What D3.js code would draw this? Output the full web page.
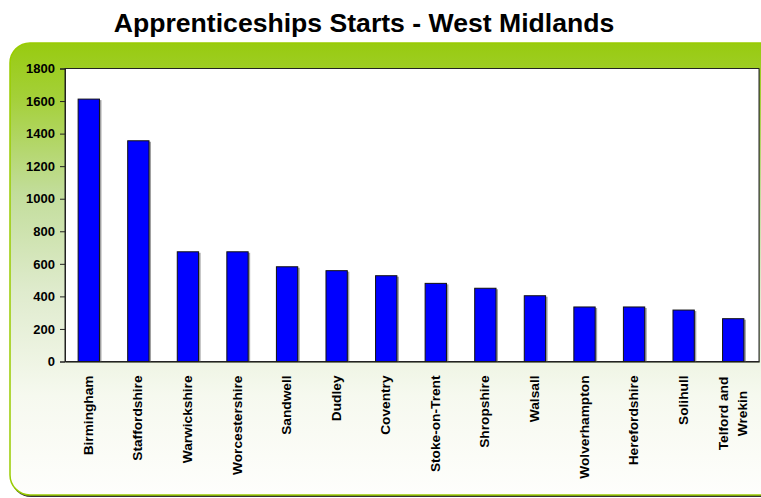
<!DOCTYPE html>
<html>
<head>
<meta charset="utf-8">
<script src="https://cdn.jsdelivr.net/npm/d3@7"></script>
<style>
  html, body { margin: 0; padding: 0; background: #ffffff; }
  svg { display: block; }
  text { font-family: "Liberation Sans", Arial, sans-serif; font-weight: bold; fill: #000; }
</style>
</head>
<body>
<svg id="chart" width="761" height="498"></svg>
<script>
const categories = ["Birmingham", "Staffordshire", "Warwickshire", "Worcestershire", "Sandwell", "Dudley", "Coventry", "Stoke-on-Trent", "Shropshire", "Walsall", "Wolverhampton", "Herefordshire", "Solihull", "Telford and\nWrekin"];
const values = [1612, 1356, 674, 674, 582, 558, 527, 480, 450, 404, 335, 335, 316, 263];
const yTicks = [0, 200, 400, 600, 800, 1000, 1200, 1400, 1600, 1800];
const title = "Apprenticeships Starts - West Midlands";

const svg = d3.select("#chart");
const plot = { left: 65, right: 759, top: 68.5, bottom: 361.5 };

// gradient for panel
const defs = svg.append("defs");
const grad = defs.append("linearGradient").attr("id", "panelGrad")
  .attr("x1", 0).attr("y1", 0).attr("x2", 0).attr("y2", 1);
[[0, "#98cb10"], [0.12, "#a4d038"], [0.33, "#c2dd9a"], [0.55, "#dfebcd"], [0.78, "#f6f9ef"], [1, "#fefefc"]]
  .forEach(([o, c]) => grad.append("stop").attr("offset", o).attr("stop-color", c));

// title
svg.append("text").attr("x", 364).attr("y", 32).attr("text-anchor", "middle")
  .style("font-size", "26.6px").text(title);

// panel shadow + panel
svg.append("rect").attr("x", 11).attr("y", 45).attr("width", 780).attr("height", 452)
  .attr("rx", 20).attr("fill", "#333");
svg.append("rect").attr("x", 10).attr("y", 43).attr("width", 780).attr("height", 452)
  .attr("rx", 20).attr("fill", "url(#panelGrad)").attr("stroke", "#99cc00").attr("stroke-width", 1.5);

const x = d3.scaleBand().domain(categories).range([plot.left, plot.right])
  .paddingInner(0.57).paddingOuter(0.285);
const y = d3.scaleLinear().domain([0, 1800]).range([plot.bottom, plot.top]);

// plot area
svg.append("rect").attr("x", plot.left + 1).attr("y", plot.top + 1)
  .attr("width", plot.right - plot.left).attr("height", plot.bottom - plot.top)
  .attr("fill", "#556b2f").attr("opacity", 0.5);
svg.append("rect").attr("x", plot.left).attr("y", plot.top)
  .attr("width", plot.right - plot.left).attr("height", plot.bottom - plot.top)
  .attr("fill", "#ffffff").attr("stroke", "#222").attr("stroke-width", 1);

// bars
const data = categories.map((c, i) => ({ c, v: values[i] }));
const bx = d => x(d.c) - 1;
svg.append("g").selectAll("rect").data(data).join("rect")
  .attr("x", d => bx(d) + 2).attr("y", d => y(d.v) + 1)
  .attr("width", x.bandwidth()).attr("height", d => y(0) - y(d.v) - 1)
  .attr("fill", "#888").attr("opacity", 0.8);
svg.append("g").selectAll("rect").data(data).join("rect")
  .attr("x", d => bx(d)).attr("y", d => y(d.v))
  .attr("width", x.bandwidth()).attr("height", d => y(0) - y(d.v))
  .attr("fill", "#0000ff").attr("stroke", "#111").attr("stroke-width", 1);

// y axis
const yAxis = d3.axisLeft(y).tickValues(yTicks).tickSize(5).tickPadding(5).tickFormat(d3.format("d"));
const gy = svg.append("g").attr("transform", `translate(${plot.left},0)`).call(yAxis);
gy.select(".domain").attr("stroke", "#222");
gy.selectAll(".tick line").attr("stroke", "#222");
gy.selectAll(".tick text").style("font-size", "13px").style("font-family", "'Liberation Sans', Arial, sans-serif").style("font-weight", "bold").attr("fill", "#000");

// x axis
const xAxis = d3.axisBottom(x).tickSize(0).tickFormat("");
const gx = svg.append("g").attr("transform", `translate(0,${plot.bottom})`).call(xAxis);
gx.select(".domain").attr("stroke", "#222");

const lbl = svg.append("g");
categories.forEach(c => {
  const cx = x(c) + x.bandwidth() / 2 - 1;
  const lines = c.split("\n");
  const lh = 19;
  const t = lbl.append("text")
    .attr("transform", `translate(${cx},${plot.bottom + 14}) rotate(-90)`)
    .attr("text-anchor", lines.length > 1 ? "middle" : "end")
    .style("font-size", "13.7px");
  if (lines.length === 1) {
    t.append("tspan").attr("x", 0).attr("y", 0).attr("dy", "0.3em").text(c);
  } else {
    lines.forEach((l, i) => {
      t.append("tspan").attr("x", -38).attr("y", (i - (lines.length - 1) / 2) * lh).attr("dy", "0.3em").text(l);
    });
  }
});
</script>
</body>
</html>
